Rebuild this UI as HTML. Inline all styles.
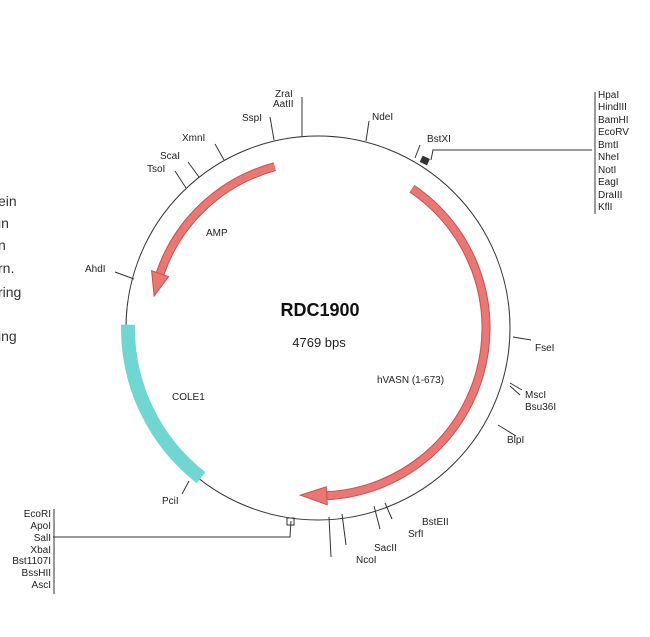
<!DOCTYPE html>
<html><head><meta charset="utf-8"><style>
html,body{margin:0;padding:0;background:#fff;}
svg{display:block;}
text{font-family:"Liberation Sans",sans-serif;fill:#222;font-size:10px;}
.l{font-size:14px;fill:#333;font-family:"Liberation Sans",sans-serif;}
</style></head><body>
<svg width="650" height="637" viewBox="0 0 650 637" xmlns="http://www.w3.org/2000/svg">
<!-- left cut text -->
<text class="l" x="-2" y="206">ein</text>
<text class="l" x="-2" y="228">in</text>
<text class="l" x="-2" y="250">n</text>
<text class="l" x="-2" y="273">rn.</text>
<text class="l" x="-2" y="297">ring</text>
<text class="l" x="-2" y="341">ing</text>

<circle cx="318" cy="328" r="192" fill="none" stroke="#333" stroke-width="1"/>

<!-- COLE1 -->
<path d="M128,324.7 A190 190 0 0 0 201,477.7" fill="none" stroke="#70d6d2" stroke-width="14"/>
<!-- AMP -->
<path d="M274.8,166.7 A167 167 0 0 0 160.1,273.6" fill="none" stroke="#c9504c" stroke-width="9"/>
<path d="M274.8,166.7 A167 167 0 0 0 160.1,273.6" fill="none" stroke="#e97774" stroke-width="7"/>
<polygon points="151.6,270.7 168.6,276.6 154.1,296.1" fill="#e97774" stroke="#c9504c" stroke-width="1"/>
<!-- hVASN -->
<path d="M411.9,188.7 A168 168 0 0 1 326.8,495.8" fill="none" stroke="#c9504c" stroke-width="9"/>
<path d="M411.9,188.7 A168 168 0 0 1 326.8,495.8" fill="none" stroke="#e97774" stroke-width="7"/>
<polygon points="327.3,504.8 326.3,486.8 300.4,495.1" fill="#e97774" stroke="#c9504c" stroke-width="1"/>

<g stroke="#333" stroke-width="1" fill="none">
<line x1="302" y1="97" x2="302" y2="136"/>
<line x1="270" y1="117" x2="274" y2="140"/>
<line x1="215" y1="144" x2="224" y2="160"/>
<line x1="188" y1="162" x2="199" y2="177"/>
<line x1="175" y1="171" x2="186" y2="188"/>
<line x1="115" y1="272" x2="134" y2="279"/>
<line x1="369" y1="121" x2="366" y2="141"/>
<line x1="420" y1="145" x2="415" y2="158"/>
<polyline points="431,160 433,150 592,150"/>
<line x1="595" y1="92" x2="595" y2="214"/>
<line x1="513" y1="337" x2="531" y2="340"/>
<line x1="510" y1="383" x2="522" y2="390"/>
<line x1="510" y1="386" x2="520" y2="395"/>
<line x1="498" y1="425" x2="516" y2="436"/>
<line x1="385" y1="503" x2="392" y2="519"/>
<line x1="374" y1="506" x2="380" y2="529"/>
<line x1="342" y1="514" x2="346" y2="545"/>
<line x1="329" y1="517" x2="331" y2="557"/>
<line x1="189" y1="481" x2="182" y2="494"/>
<polyline points="291,521 290,537 53,537"/>
<line x1="54" y1="509" x2="54" y2="594"/>
</g>
<rect x="421" y="157" width="8" height="7" fill="#333" transform="rotate(25 425 160)"/>
<rect x="287" y="518" width="7" height="7" fill="none" stroke="#333" stroke-width="1"/>

<text x="275" y="97">ZraI</text>
<text x="273" y="107">AatII</text>
<text x="242" y="121">SspI</text>
<text x="182" y="141">XmnI</text>
<text x="160" y="159">ScaI</text>
<text x="147" y="172">TsoI</text>
<text x="85" y="272">AhdI</text>
<text x="372" y="120">NdeI</text>
<text x="427" y="142">BstXI</text>
<g>
<text x="598" y="98">HpaI</text>
<text x="598" y="110">HindIII</text>
<text x="598" y="123">BamHI</text>
<text x="598" y="135">EcoRV</text>
<text x="598" y="148">BmtI</text>
<text x="598" y="160">NheI</text>
<text x="598" y="173">NotI</text>
<text x="598" y="185">EagI</text>
<text x="598" y="198">DraIII</text>
<text x="598" y="210">KflI</text>
</g>
<text x="535" y="351">FseI</text>
<text x="525" y="398">MscI</text>
<text x="525" y="410">Bsu36I</text>
<text x="507" y="443">BlpI</text>
<text x="422" y="525">BstEII</text>
<text x="408" y="537">SrfI</text>
<text x="374" y="551">SacII</text>
<text x="356" y="563">NcoI</text>
<text x="162" y="504">PciI</text>
<g text-anchor="end">
<text x="51" y="517">EcoRI</text>
<text x="51" y="529">ApoI</text>
<text x="51" y="541">SalI</text>
<text x="51" y="553">XbaI</text>
<text x="51" y="564">Bst1107I</text>
<text x="51" y="576">BssHII</text>
<text x="51" y="588">AscI</text>
</g>
<text x="206" y="236">AMP</text>
<text x="172" y="400">COLE1</text>
<text x="377" y="383">hVASN (1-673)</text>
<text x="320" y="316" text-anchor="middle" style="font-size:18px;font-weight:bold;fill:#111">RDC1900</text>
<text x="319" y="347" text-anchor="middle" style="font-size:13px">4769 bps</text>
</svg>
</body></html>
